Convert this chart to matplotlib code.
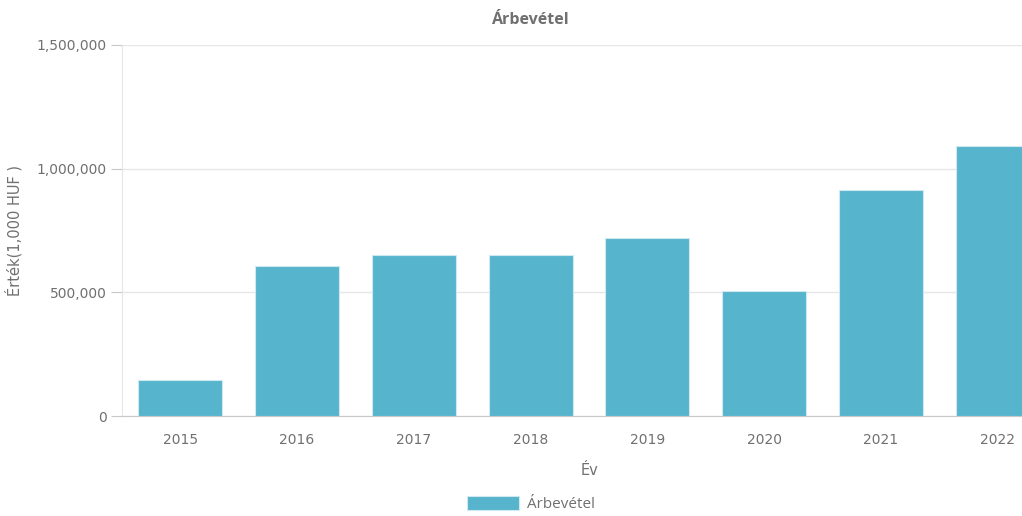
import numpy as np
import matplotlib.pyplot as plt
from matplotlib.ticker import FuncFormatter

plt.rcParams['font.family'] = ['DejaVu Sans']

# data
years = ['2015', '2016', '2017', '2018', '2019', '2020', '2021', '2022']
revenue = [146000, 606000, 651000, 651000, 720000, 505000, 914000, 1092000]

bar_color = '#57b4cd'
text_color = '#707070'

fig = plt.figure(figsize=(10.22, 5.16), dpi=100)
# the axes run past the right edge on purpose, the last bar is cut off
ax = fig.add_axes([122 / 1022, 1 - 416 / 516, 934 / 1022, 371 / 516])

x = np.arange(len(years))
ax.bar(x, revenue, width=0.72, color=bar_color, edgecolor='#cfe9f1', linewidth=0.8,
       label='Árbevétel', zorder=3)

ax.set_xlim(-0.5, len(years) - 0.5)
ax.set_ylim(0, 1500000)
ax.set_yticks([0, 500000, 1000000, 1500000])
ax.yaxis.set_major_formatter(FuncFormatter(lambda v, p: f"{int(v):,}"))
ax.set_xticks(x)
ax.set_xticklabels(years)

ax.grid(axis='y', color='#e6e6e6', linewidth=1, zorder=0)
for s in ['top', 'right']:
    ax.spines[s].set_visible(False)
ax.spines['left'].set_color('#e6e6e6')
ax.spines['bottom'].set_color('#c8c8c8')

ax.tick_params(axis='y', colors='#c8c8c8', labelcolor=text_color, labelsize=10, length=8, pad=3)
ax.tick_params(axis='x', length=0, labelcolor=text_color, labelsize=10, pad=12)

ax.set_xlabel('Év', color=text_color, fontsize=10.5, labelpad=12)
fig.text(14 / 1022, 1 - 230 / 516, 'Érték(1,000 HUF )', rotation=90, ha='center', va='center',
         color=text_color, fontsize=10.5)

fig.text(531 / 1022, 1 - 20 / 516, 'Árbevétel', ha='center', va='center', color=text_color,
         fontsize=11.5, fontweight='bold', family='Open Sans')

handles, labels = ax.get_legend_handles_labels()
fig.legend(handles, labels, loc='center', bbox_to_anchor=(531 / 1022, 1 - 504 / 516), frameon=False,
           handlelength=3.4, handleheight=1.1, handletextpad=0.5,
           prop={'family': 'Open Sans', 'size': 11}, labelcolor=text_color)

fig.savefig('out.png', dpi=100)
